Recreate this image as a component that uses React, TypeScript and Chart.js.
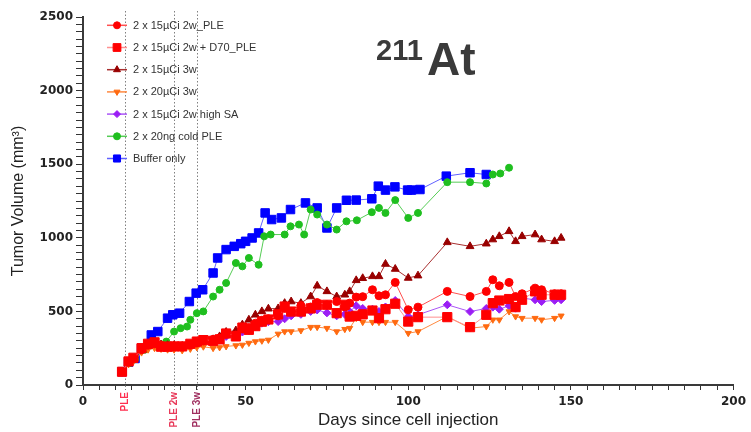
import React, { useEffect, useRef } from 'react';
import { Chart, registerables } from 'chart.js';
import { drawPoint } from 'chart.js/helpers';

Chart.register(...registerables);

// ---- Data ----
const seriesLabels = [
  '2 x 15µCi 2w_PLE',
  '2 x 15µCi 2w + D70_PLE',
  '2 x 15µCi 3w',
  '2 x 20µCi 3w',
  '2 x 15µCi 2w high SA',
  '2 x 20ng cold PLE',
  'Buffer only',
];

const treatDays = [12, 14, 15.5, 18, 20, 22, 24, 26, 28, 30.5, 33, 35, 37, 40, 42, 44, 47, 49, 51, 53, 55, 57, 60, 62, 64, 67, 70, 72, 75, 78, 80.5, 82, 84, 86, 89, 91, 93, 96, 100, 103, 112, 119, 124, 126, 128, 131, 133, 135, 139, 141, 145, 147];
const ple2wVol = [90, 155, 180, 240, 270, 280, 270, 265, 265, 260, 270, 285, 300, 310, 320, 345, 340, 380, 390, 420, 440, 450, 470, 520, 500, 540, 530, 560, 545, 567, 530, 556, 597, 600, 647, 606, 613, 697, 511, 529, 636, 601, 636, 715, 674, 697, 601, 620, 658, 647, 620, 620];
const pleD70Vol = [90, 160, 185, 250, 280, 290, 260, 260, 262, 262, 280, 295, 305, 300, 310, 350, 330, 390, 375, 400, 430, 445, 480, 533, 499, 499, 520, 545, 545, 488, 545, 465, 470, 480, 506, 454, 515, 552, 431, 461, 461, 393, 477, 556, 574, 584, 529, 579, 636, 613, 613, 613];
const uci15w3Vol = [90, 150, 175, 245, 275, 285, 275, 270, 270, 265, 275, 290, 300, 310, 330, 360, 370, 410, 443, 477, 500, 518, 520, 556, 567, 556, 601, 674, 636, 601, 613, 636, 711, 725, 738, 738, 822, 788, 727, 743, 969, 942, 960, 988, 1010, 1044, 976, 1010, 1022, 988, 976, 999];
const uci20w3Vol = [85, 140, 160, 220, 240, 250, 245, 240, 240, 235, 245, 255, 260, 250, 255, 262, 268, 272, 285, 295, 300, 306, 347, 363, 363, 370, 393, 393, 386, 363, 379, 386, 454, 427, 427, 427, 427, 427, 352, 363, 465, 386, 397, 443, 443, 499, 465, 454, 454, 443, 454, 470];
const highSAVol = [85, 150, 175, 235, 260, 275, 265, 255, 255, 250, 265, 280, 290, 300, 305, 330, 335, 360, 370, 395, 420, 430, 431, 450, 470, 480, 500, 510, 490, 470, 480, 499, 538, 520, 515, 499, 530, 574, 465, 477, 545, 499, 520, 529, 515, 538, 522, 590, 579, 567, 575, 579];

const coldDays = [12, 14.4, 16, 19, 21, 23, 25.6, 28, 30, 32, 33, 35, 37, 40, 42, 44, 47, 49, 51, 54, 55.7, 57.7, 62, 63.8, 66.4, 68, 70, 72, 75, 78, 81, 84.2, 88.8, 91, 93, 96, 100, 103, 112, 119, 124, 126, 128.3, 131];
const coldVol = [90, 150, 175, 240, 270, 270, 295, 363, 386, 397, 443, 488, 500, 601, 647, 693, 829, 806, 863, 817, 1010, 1022, 1022, 1078, 1090, 1022, 1192, 1158, 1090, 1056, 1112, 1119, 1174, 1203, 1169, 1256, 1135, 1169, 1378, 1378, 1369, 1430, 1437, 1476];

const bufferDays = [12, 14, 16, 18, 21, 23, 26, 27.6, 29.7, 32.7, 34.8, 36.8, 40, 41.4, 44, 46.5, 48.5, 50, 52, 54, 56, 58, 61, 63.8, 68.4, 72, 75, 78, 81, 84, 88.8, 90.8, 93, 95.9, 99.8, 101, 103.6, 111.7, 119, 124];
const bufferVol = [90, 155, 180, 250, 340, 363, 454, 477, 488, 567, 624, 647, 761, 863, 920, 942, 960, 976, 999, 1033, 1169, 1124, 1135, 1192, 1237, 1203, 1067, 1203, 1255, 1256, 1265, 1351, 1324, 1346, 1324, 1324, 1328, 1419, 1442, 1430];

const pleDays = [13, 28, 35];
const pleLabels = ['PLE', 'PLE 2w', 'PLE 3w'];

const xMin = 0, xMax = 200, xStep = 5, xLabelEvery = 50;
const yMin = 0, yMax = 2500, yStep = 50, yLabelEvery = 500;

// ---- Styles ----
const seriesDays = [treatDays, treatDays, treatDays, treatDays, treatDays, coldDays, bufferDays];
const seriesVals = [ple2wVol, pleD70Vol, uci15w3Vol, uci20w3Vol, highSAVol, coldVol, bufferVol];
const styles = [
  { color: '#ff0000', line: '#ff5050', shape: 'circle', r: 4, rot: 0, lr: 3.5 },
  { color: '#ff0000', line: '#ff9090', shape: 'rect', r: 6.5, rot: 0, lr: 5.5 },
  { color: '#990000', line: '#a83030', shape: 'triangle', r: 4.5, rot: 0, lr: 4 },
  { color: '#ff6a10', line: '#ff8a40', shape: 'triangle', r: 3.5, rot: 180, lr: 3.5 },
  { color: '#9b1df5', line: '#aa55f7', shape: 'rectRot', r: 4, rot: 0, lr: 3.5 },
  { color: '#1fbf1f', line: '#55cc55', shape: 'circle', r: 3.5, rot: 0, lr: 3.5 },
  { color: '#0000ff', line: '#6060ff', shape: 'rect', r: 6, rot: 0, lr: 5 },
];
const pleColors = ['#ff3050', '#e83a5a', '#a03060'];
const FONT = "'Liberation Sans', Arial, sans-serif";

const annotPlugin = {
  id: 'annot',
  beforeDatasetsDraw(chart: any) {
    const { ctx, chartArea, scales } = chart;
    const xs = scales.x;
    ctx.save();
    ctx.strokeStyle = '#808080';
    ctx.lineWidth = 1;
    ctx.setLineDash([1.5, 2]);
    pleDays.forEach((d) => {
      const x = Math.round(xs.getPixelForValue(d)) + 0.5;
      ctx.beginPath();
      ctx.moveTo(x, chartArea.top - 6);
      ctx.lineTo(x, chartArea.bottom + 5);
      ctx.stroke();
    });
    ctx.restore();
  },
  afterDraw(chart: any) {
    const { ctx, chartArea, scales } = chart;
    const xs = scales.x;
    // PLE labels
    ctx.save();
    ctx.font = `bold 10px ${FONT}`;
    ctx.textAlign = 'right';
    ctx.textBaseline = 'middle';
    pleDays.forEach((d, i) => {
      const x = xs.getPixelForValue(d);
      ctx.save();
      ctx.translate(x, chartArea.bottom + 7);
      ctx.rotate(-Math.PI / 2);
      ctx.fillStyle = pleColors[i];
      ctx.fillText(pleLabels[i], 0, 0);
      ctx.restore();
    });
    ctx.restore();

    // Legend
    ctx.save();
    const y0 = 25.3, dy = 22.2;
    seriesLabels.forEach((lab, i) => {
      const st = styles[i];
      const y = y0 + i * dy;
      ctx.strokeStyle = st.line;
      ctx.lineWidth = 1.5;
      ctx.setLineDash([]);
      ctx.beginPath();
      ctx.moveTo(107, y);
      ctx.lineTo(127, y);
      ctx.stroke();
      ctx.fillStyle = st.color;
      ctx.strokeStyle = st.color;
      ctx.lineWidth = 1;
      drawPoint(ctx, { pointStyle: st.shape, radius: st.lr, rotation: st.rot, borderWidth: 1 } as any, 117, y);
      ctx.fillStyle = '#333';
      ctx.font = `11px ${FONT}`;
      ctx.textAlign = 'left';
      ctx.textBaseline = 'middle';
      ctx.fillText(lab, 133, y + 0.5);
    });
    ctx.restore();

    // Title 211At
    ctx.save();
    ctx.fillStyle = '#3a3a3a';
    ctx.textAlign = 'left';
    ctx.textBaseline = 'alphabetic';
    ctx.font = `bold 29px ${FONT}`;
    ctx.fillText('211', 376, 60);
    ctx.font = `bold 46px ${FONT}`;
    ctx.fillText('At', 427, 75);
    ctx.restore();
  },
};

export default function App() {
  const ref = useRef<HTMLCanvasElement | null>(null);
  useEffect(() => {
    if (!ref.current) return;
    const datasets = seriesLabels.map((label, i) => {
      const st = styles[i];
      return {
        label,
        data: seriesDays[i].map((d, j) => ({ x: d, y: seriesVals[i][j] })),
        borderColor: st.line,
        backgroundColor: st.color,
        borderWidth: 1,
        pointStyle: st.shape,
        pointRadius: st.r,
        pointRotation: st.rot,
        pointBackgroundColor: st.color,
        pointBorderColor: st.color,
        pointBorderWidth: 1,
        showLine: true,
        tension: 0,
        fill: false,
      };
    });
    const tickFont = { family: "'DejaVu Sans', sans-serif", weight: 'bold' as const, size: 12 };
    const chart = new Chart(ref.current, {
      type: 'line',
      data: { datasets: datasets as any },
      options: {
        animation: false,
        responsive: false,
        maintainAspectRatio: false,
        layout: { padding: { left: 0, top: 17, right: 14, bottom: 0 } },
        plugins: { legend: { display: false }, tooltip: { enabled: false }, title: { display: false } },
        scales: {
          x: {
            type: 'linear',
            min: xMin,
            max: xMax,
            ticks: {
              stepSize: xStep,
              autoSkip: false,
              maxRotation: 0,
              padding: 5,
              color: '#222',
              font: tickFont,
              callback: (v: any) => (Number(v) % xLabelEvery === 0 ? String(v) : ''),
            },
            grid: { drawOnChartArea: false, drawTicks: true, tickLength: 5, tickColor: '#333', tickWidth: 1 },
            border: { color: '#3a3a3a', width: 2 },
            title: {
              display: true,
              text: 'Days since cell injection',
              color: '#222',
              font: { family: FONT, size: 17 },
              padding: { top: 0, bottom: 1 },
            },
            afterFit: (s: any) => { s.height = 47; },
          },
          y: {
            type: 'linear',
            min: yMin,
            max: yMax,
            ticks: {
              stepSize: yStep,
              autoSkip: false,
              padding: 3,
              color: '#222',
              font: tickFont,
              callback: (v: any) => (Number(v) % yLabelEvery === 0 ? String(v) : ''),
            },
            grid: { drawOnChartArea: false, drawTicks: true, tickLength: 7, tickColor: '#333', tickWidth: 1 },
            border: { color: '#3a3a3a', width: 2 },
            title: {
              display: true,
              text: 'Tumor Volume (mm³)',
              color: '#222',
              font: { family: FONT, size: 16 },
              padding: { top: 9, bottom: 0 },
            },
            afterFit: (s: any) => { s.width = 83; },
          },
        },
      } as any,
      plugins: [annotPlugin],
    });
    return () => chart.destroy();
  }, []);
  return (
    <div style={{ position: 'absolute', left: 0, top: 0, width: 751, height: 432, background: '#fff' }}>
      <canvas ref={ref} width={751} height={432} style={{ width: 751, height: 432, display: 'block' }} />
    </div>
  );
}
